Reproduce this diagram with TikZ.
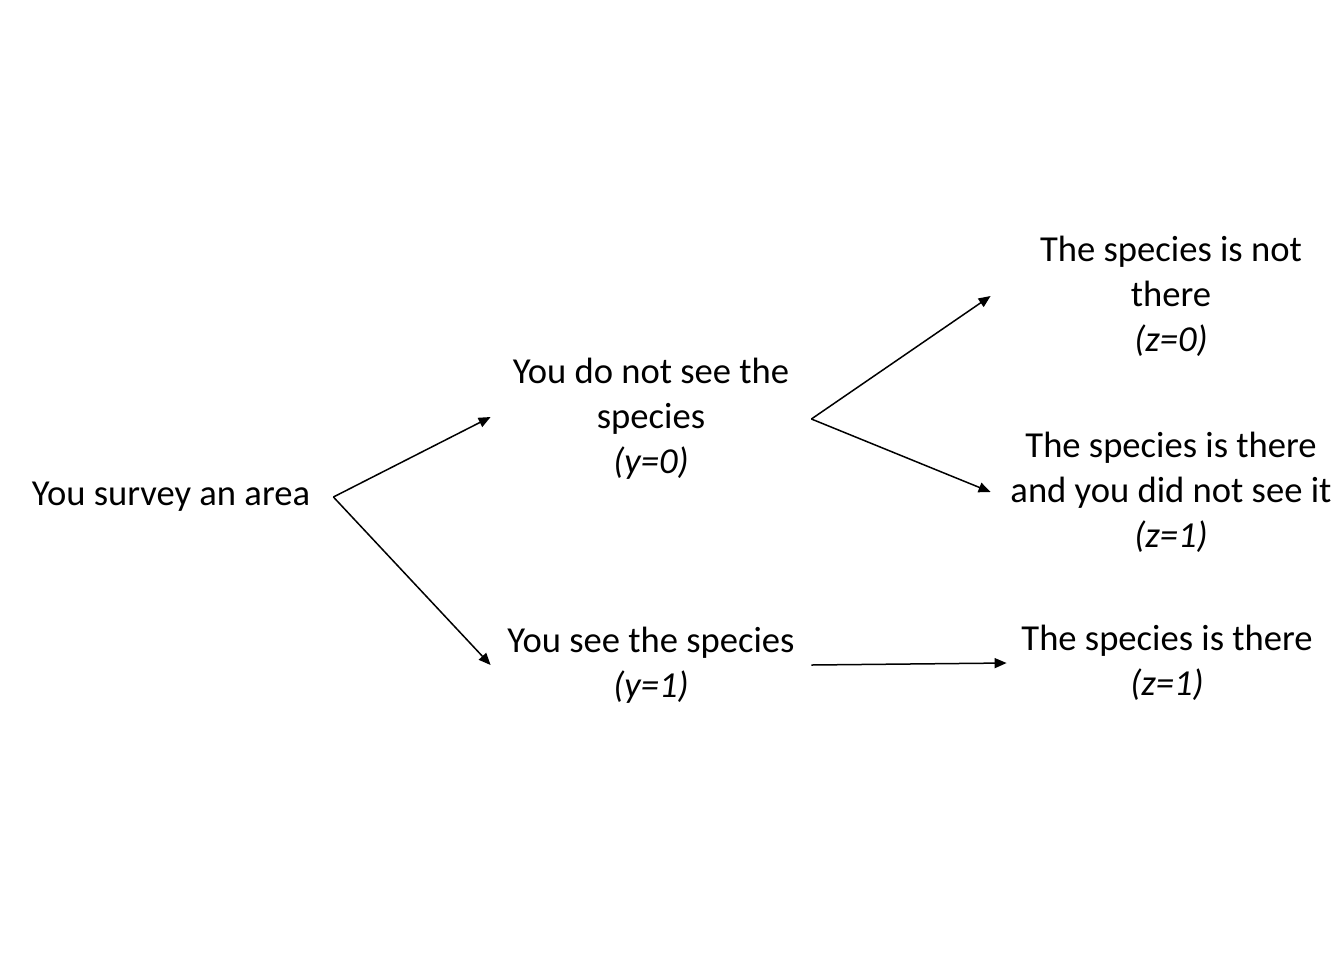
\documentclass[tikz,border=0pt]{standalone}
\usepackage{fontspec}
\setmainfont{Carlito}
\usepackage{tikz}
\usetikzlibrary{arrows.meta,positioning}

\begin{document}
\begin{tikzpicture}[
  x=0.5pt, y=-0.5pt,
  font=\fontsize{18.3pt}{22.5pt}\selectfont,
  state/.style={
    rectangle, inner sep=0pt, align=center,
    minimum height=1cm
  },
  branch/.style={-{Triangle[length=6pt,width=5pt]}, line width=0.75pt}
]
\useasboundingbox (0,0) rectangle (1344,960);

% survey outcome tree
\node[state, minimum width=162pt] (survey) at (171,497) {You survey an area};

\node[state, minimum width=160pt] (notseen) at (651,419) {%
  You do not see the\\
  species\\
  \textit{(y=0)}%
};
\node[state, minimum width=160pt] (seen) at (651,665) {%
  You see the species\\
  \textit{(y=1)}%
};

\node[state, minimum width=180pt] (absent) at (1171,296) {%
  The species is not\\
  there\\
  \textit{(z=0)}%
};
\node[state, minimum width=180pt] (missed) at (1171,492) {%
  The species is there\\
  and you did not see it\\
  \textit{(z=1)}%
};
\node[state, minimum width=160pt] (present) at (1167,663) {%
  The species is there\\
  \textit{(z=1)}%
};

\draw[branch] (survey.east) -- ([yshift=1pt]notseen.west);
\draw[branch] (survey.east) -- (seen.west);
\draw[branch] (notseen.east) -- (absent.west);
\draw[branch] (notseen.east) -- (missed.west);
\draw[branch] (seen.east) -- (present.west);
\end{tikzpicture}
\end{document}
